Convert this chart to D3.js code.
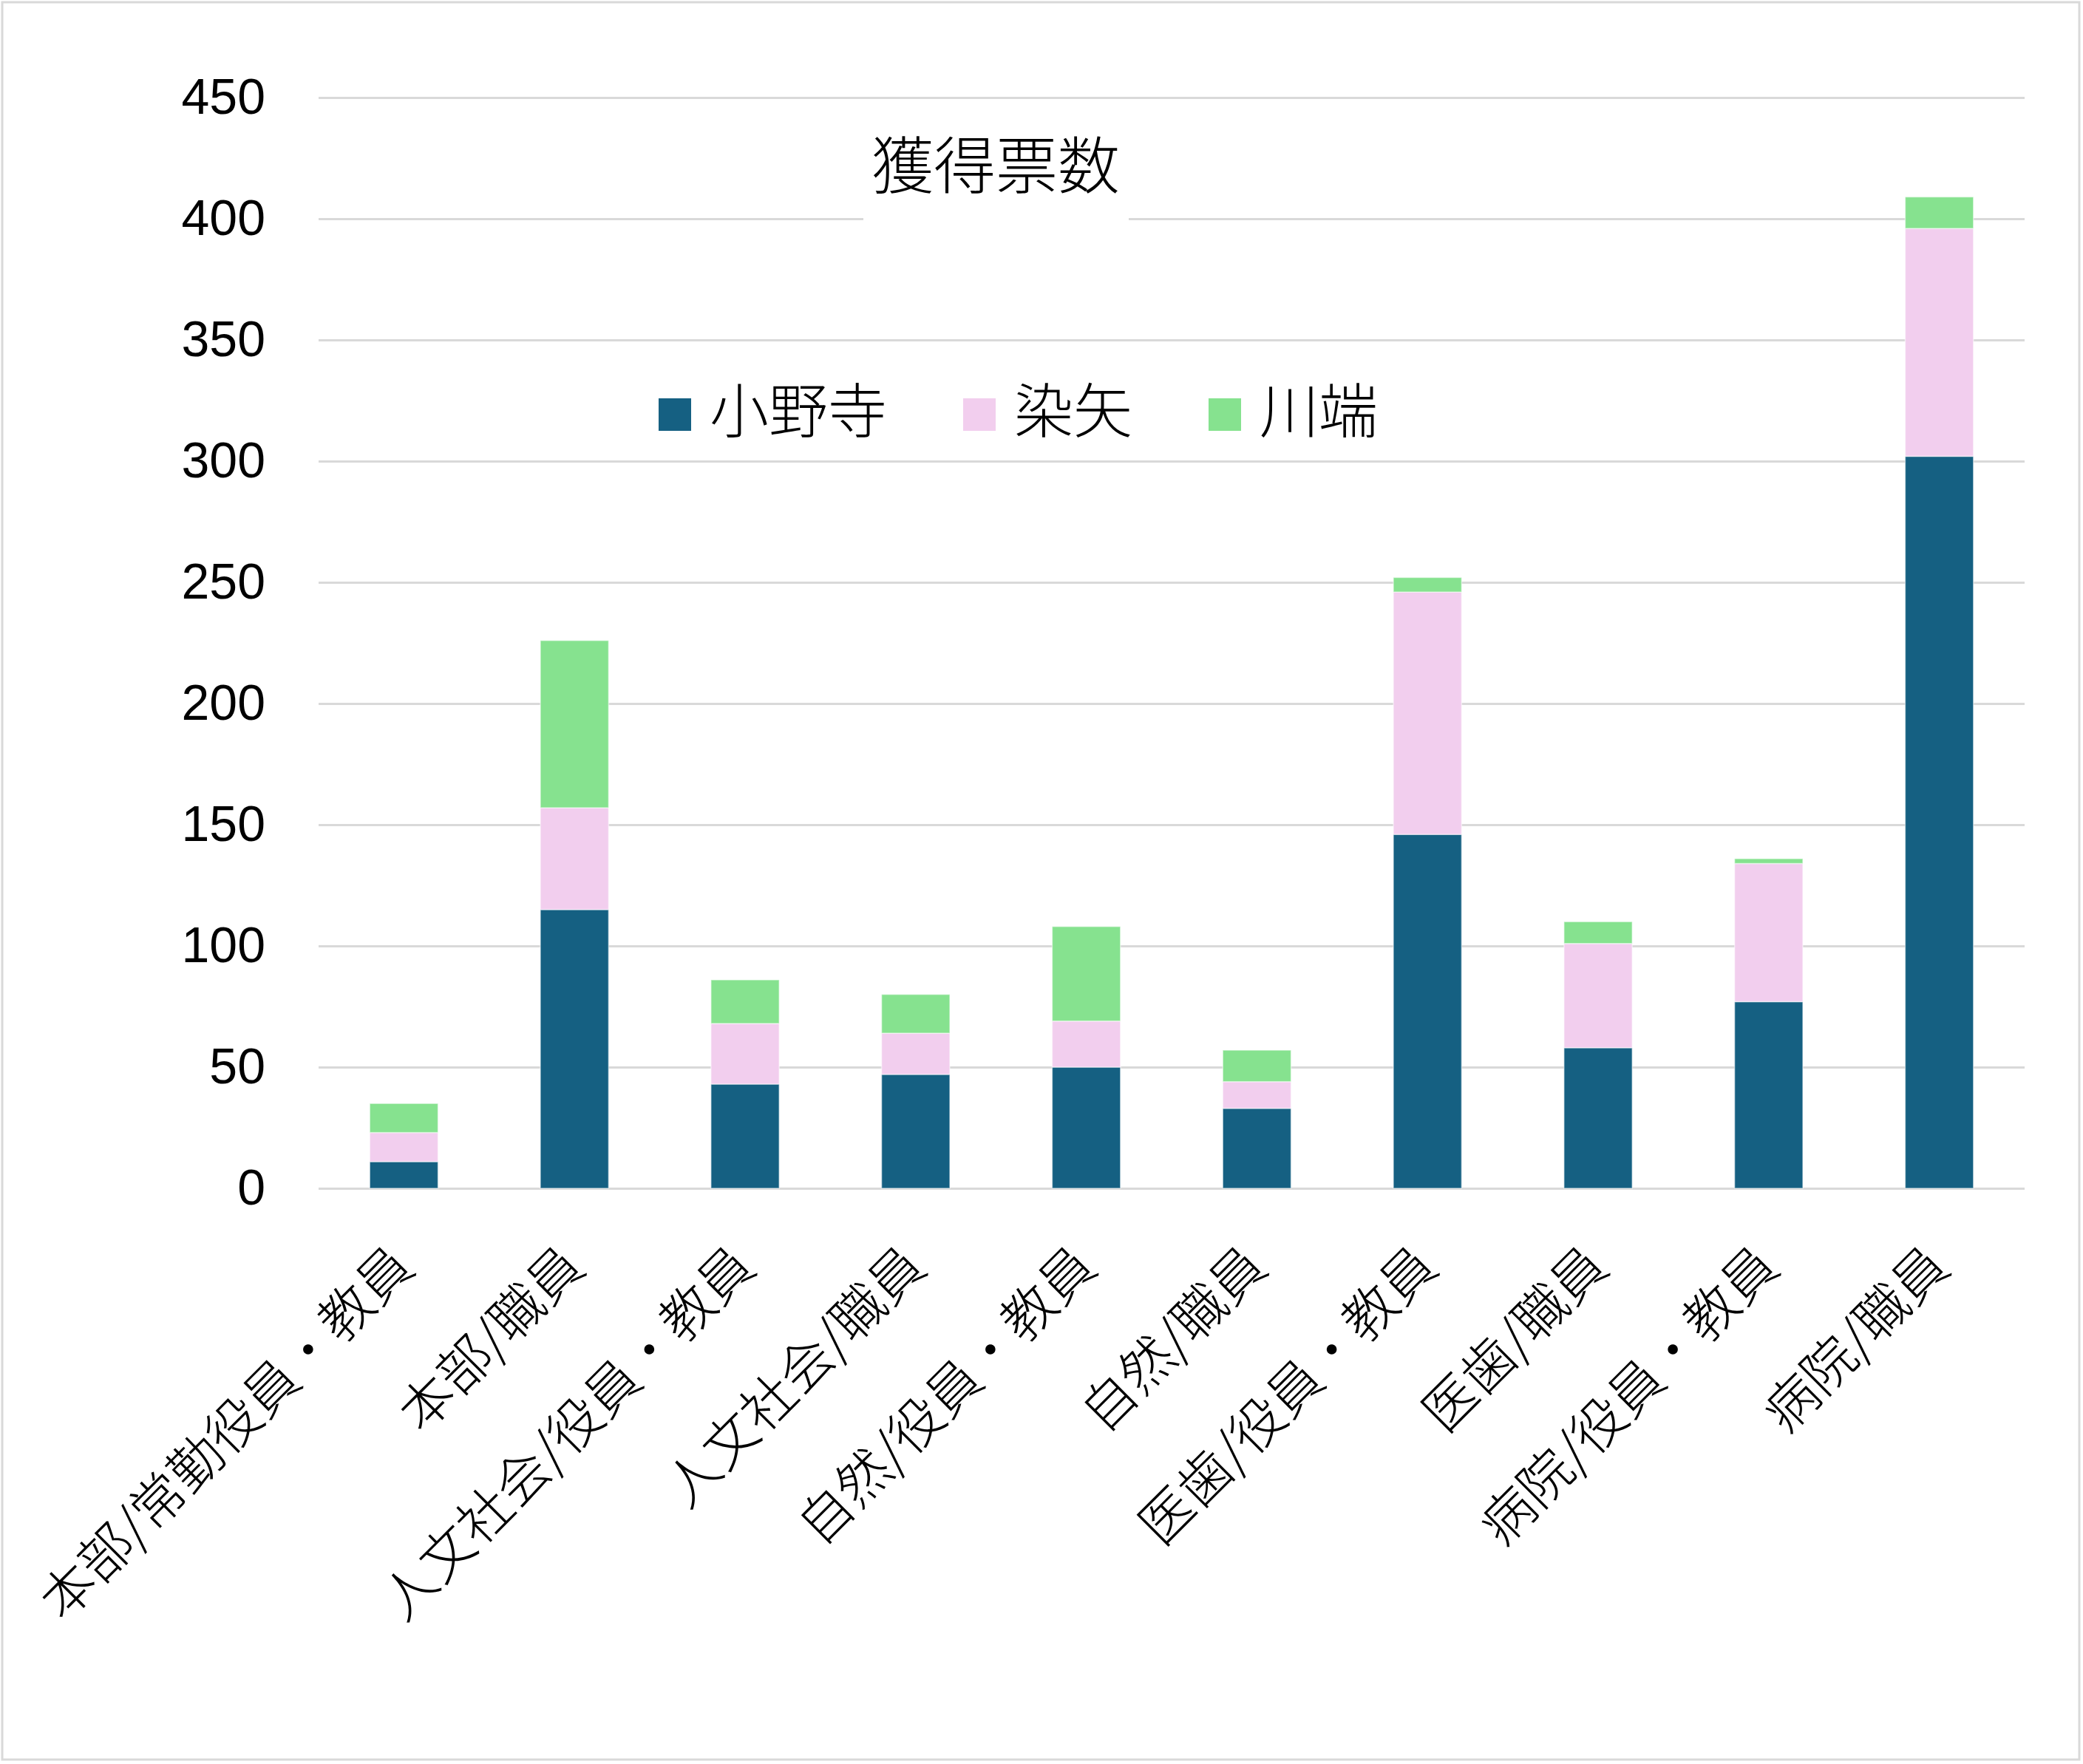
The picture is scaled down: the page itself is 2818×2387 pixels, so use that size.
<!DOCTYPE html>
<html>
<head>
<meta charset="utf-8">
<script src="https://cdnjs.cloudflare.com/ajax/libs/d3/7.8.5/d3.min.js"></script>
<style>
    body { margin: 0; background: #ffffff; }
</style>
</head>
<body>
<div id="chart"></div>
<script>
var categories = ["本部/常勤役員・教員", "本部/職員", "人文社会/役員・教員", "人文社会/職員",
    "自然/役員・教員", "自然/職員", "医歯/役員・教員", "医歯/職員", "病院/役員・教員", "病院/職員"];
var seriesNames = ["小野寺", "染矢", "川端"];
var onodera = [11, 115, 43, 47, 50, 33, 146, 58, 77, 302];
var someya = [12, 42, 25, 17, 19, 11, 100, 43, 57, 94];
var kawabata = [12, 69, 18, 16, 39, 13, 6, 9, 2, 13];
var yTicks = [0, 50, 100, 150, 200, 250, 300, 350, 400, 450];
var chartTitle = "獲得票数";

var colors = ["#156082", "#F2CEEE", "#86E28F"];
var cjk = "'Noto Sans CJK JP', 'Noto Sans CJK SC', sans-serif";

var W = 2818, H = 2387;
var margin = {top: 132, right: 79, bottom: 779, left: 431};
var width = W - margin.left - margin.right;
var height = H - margin.top - margin.bottom;

// rows for the stack
var table = categories.map(function(c, i) {
    return {cat: c, "小野寺": onodera[i], "染矢": someya[i], "川端": kawabata[i]};
});
var stacked = d3.stack().keys(seriesNames)(table);

var root = d3.select("#chart")
    .append("svg")
    .attr("width", W)
    .attr("height", H);

root.append("rect")
    .attr("x", 0).attr("y", 0)
    .attr("width", W).attr("height", H)
    .style("fill", "#ffffff");

// outer border
root.append("rect")
    .attr("x", 3).attr("y", 3)
    .attr("width", W - 8).attr("height", H - 9)
    .style("fill", "none")
    .style("stroke", "#d9d9d9")
    .style("stroke-width", 3);

var svg = root.append("g")
    .attr("transform", "translate(" + margin.left + "," + margin.top + ")");

var x = d3.scaleBand()
    .domain(categories)
    .range([0, width])
    .paddingInner(0.6)
    .paddingOuter(0.3);

var y = d3.scaleLinear()
    .domain([0, 450])
    .range([height, 0]);

// y axis + gridlines
var yAxis = svg.append("g")
    .call(d3.axisLeft(y).tickValues(yTicks).tickSize(-width).tickPadding(72));
yAxis.select(".domain").remove();
yAxis.selectAll(".tick line")
    .style("stroke", "#d9d9d9")
    .style("stroke-width", 3);
yAxis.selectAll(".tick text")
    .style("font-family", "'Liberation Sans', Arial, sans-serif")
    .style("font-size", "68px")
    .style("fill", "#000000");

// bars
svg.append("g")
    .selectAll("g")
    .data(stacked)
    .enter()
    .append("g")
    .style("fill", function(d, i) { return colors[i]; })
    .selectAll("rect")
    .data(function(d) { return d; })
    .enter()
    .append("rect")
    .attr("x", function(d) { return x(d.data.cat); })
    .attr("y", function(d) { return y(d[1]); })
    .attr("height", function(d) { return y(d[0]) - y(d[1]); })
    .attr("width", x.bandwidth())
    .style("stroke", "#ffffff")
    .style("stroke-opacity", 0.5)
    .style("stroke-width", 1.5);

// x axis labels, rotated
var xAxis = svg.append("g")
    .attr("transform", "translate(0," + height + ")")
    .call(d3.axisBottom(x).tickSize(0));
xAxis.select(".domain").remove();
xAxis.selectAll(".tick text")
    .attr("x", 0).attr("y", 0).attr("dy", null)
    .attr("transform", "translate(17,110) rotate(-45)")
    .style("text-anchor", "end")
    .style("font-family", cjk)
    .style("font-weight", 300)
    .style("font-size", "72px")
    .style("fill", "#000000");

// title with white box over gridline
root.append("rect")
    .attr("x", 1168).attr("y", 150)
    .attr("width", 359).attr("height", 152)
    .style("fill", "#ffffff");
root.append("text")
    .attr("x", 1347)
    .attr("y", 218)
    .attr("text-anchor", "middle")
    .attr("dominant-baseline", "central")
    .style("font-family", cjk)
    .style("font-weight", 300)
    .style("font-size", "84px")
    .style("fill", "#000000")
    .text(chartTitle);

// legend
var legend = root.append("g").attr("transform", "translate(891,561)");
var lx = 0;
seriesNames.forEach(function(name, i) {
    legend.append("rect")
        .attr("x", lx).attr("y", -22)
        .attr("width", 44).attr("height", 44)
        .style("fill", colors[i]);
    var t = legend.append("text")
        .attr("x", lx + 69)
        .attr("y", -11)
        .attr("dominant-baseline", "central")
        .style("font-family", cjk)
        .style("font-weight", 300)
        .style("font-size", "80px")
        .style("fill", "#000000")
        .text(name);
    lx = lx + 69 + t.node().getComputedTextLength() + 103;
});
</script>
</body>
</html>
